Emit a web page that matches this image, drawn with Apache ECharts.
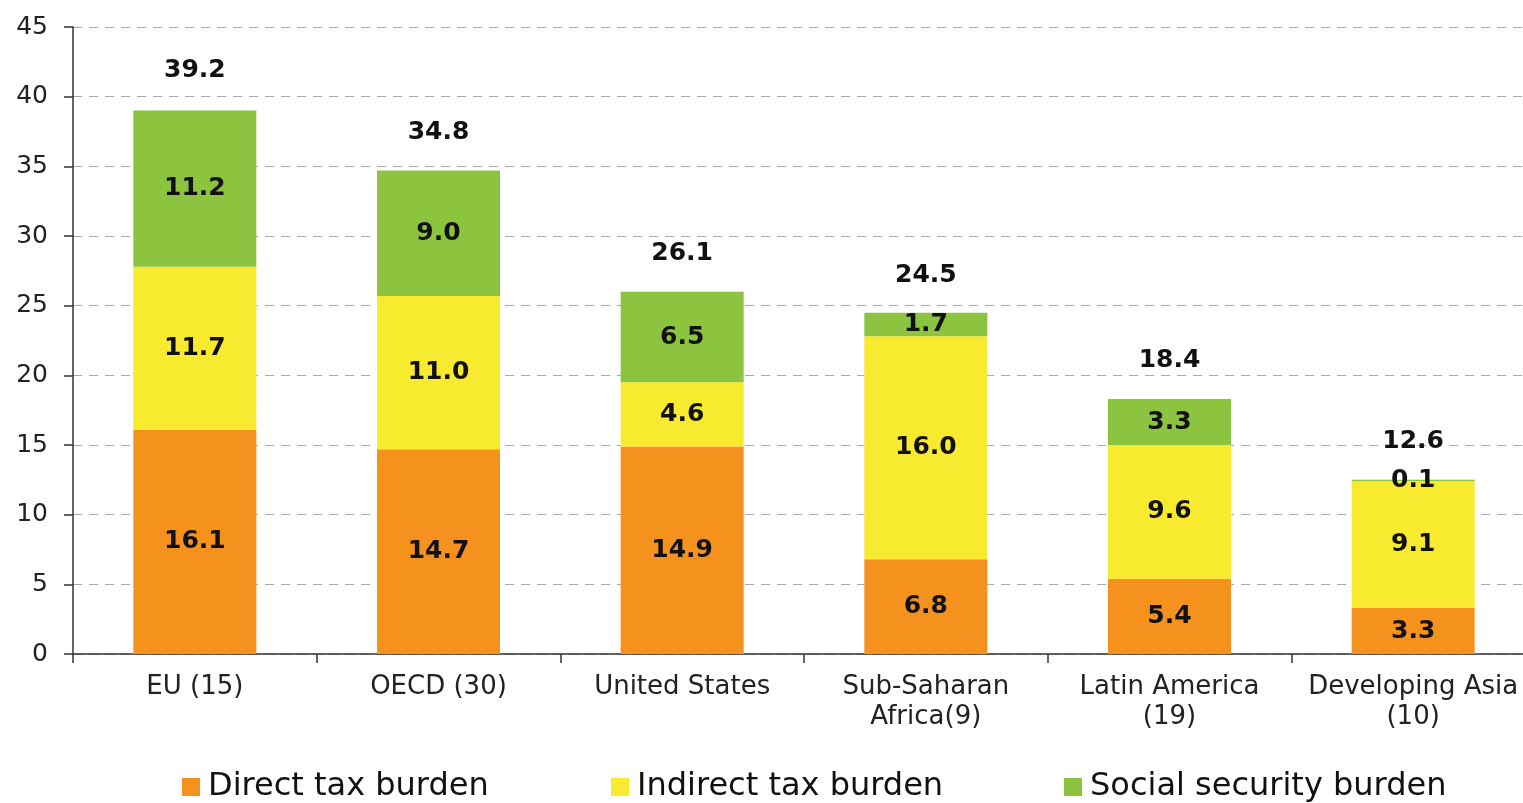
<!DOCTYPE html>
<html>
<head>
<meta charset="utf-8">
<script src="https://cdn.jsdelivr.net/npm/echarts@6/dist/echarts.min.js"></script>
<style>
html,body{margin:0;padding:0;background:#fff;}
#chart{width:1523px;height:803px;}
</style>
</head>
<body>
<div id="chart"></div>
<script>
const categories = ['EU (15)', 'OECD (30)', 'United States', 'Sub-Saharan\nAfrica(9)', 'Latin America\n(19)', 'Developing Asia\n(10)'];
const directTax = [16.1, 14.7, 14.9, 6.8, 5.4, 3.3];
const indirectTax = [11.7, 11.0, 4.6, 16.0, 9.6, 9.1];
const socialSecurity = [11.2, 9.0, 6.5, 1.7, 3.3, 0.1];
const totals = [39.2, 34.8, 26.1, 24.5, 18.4, 12.6];
const seriesNames = ['Direct tax burden', 'Indirect tax burden', 'Social security burden'];
const yTicks = { min: 0, max: 45, interval: 5 };

const FONT = 'DejaVu Sans';
const valueLabel = {
  show: true,
  position: 'inside',
  fontFamily: FONT,
  fontWeight: 'bold',
  fontSize: 25,
  color: '#111',
  formatter: p => p.value.toFixed(1)
};
const legendLefts = [177, 606, 1059];
const legends = seriesNames.map((n, i) => ({
  data: [n],
  left: legendLefts[i],
  top: 766,
  itemWidth: 18,
  itemHeight: 18,
  icon: 'rect',
  textStyle: { fontFamily: FONT, fontSize: 32, color: '#111', padding: [0, 0, 0, 3] }
}));

const chart = echarts.init(document.getElementById('chart'));
chart.setOption({
  animation: false,
  backgroundColor: '#fff',
  grid: { left: 73, right: -12, top: 27, bottom: 149, containLabel: false, outerBoundsMode: 'none' },
  legend: legends,
  xAxis: {
    type: 'category',
    data: categories,
    axisLine: { lineStyle: { color: '#333', width: 1.5 } },
    axisTick: { show: true, length: 9, lineStyle: { color: '#333', width: 1.5 } },
    axisLabel: { fontFamily: FONT, fontSize: 26, color: '#222', margin: 18, lineHeight: 30, interval: 0 }
  },
  yAxis: {
    type: 'value',
    min: yTicks.min,
    max: yTicks.max,
    interval: yTicks.interval,
    axisLine: { show: true, lineStyle: { color: '#333', width: 1.5 } },
    axisTick: { show: true, length: 9, lineStyle: { color: '#333', width: 1.5 } },
    axisLabel: { fontFamily: FONT, fontSize: 25, color: '#222', margin: 25 },
    splitLine: { show: true, lineStyle: { color: '#aaa', type: [9, 7], width: 1 } }
  },
  series: [
    { name: seriesNames[0], type: 'bar', stack: 'tax', data: directTax, barWidth: 123,
      itemStyle: { color: '#F5921E' }, label: valueLabel },
    { name: seriesNames[1], type: 'bar', stack: 'tax', data: indirectTax, barWidth: 123,
      itemStyle: { color: '#F8EB2F' }, label: valueLabel },
    { name: seriesNames[2], type: 'bar', stack: 'tax', data: socialSecurity, barWidth: 123,
      itemStyle: { color: '#8CC43F' }, label: valueLabel },
    { name: 'Total', type: 'scatter', data: totals, symbolSize: 1,
      itemStyle: { color: 'rgba(0,0,0,0)', opacity: 1 }, silent: true, z: 10,
      label: { show: true, position: 'top', distance: 24, fontFamily: FONT, fontWeight: 'bold',
        fontSize: 25, color: '#111', opacity: 1, formatter: p => p.value.toFixed(1) } }
  ]
});
</script>
</body>
</html>
